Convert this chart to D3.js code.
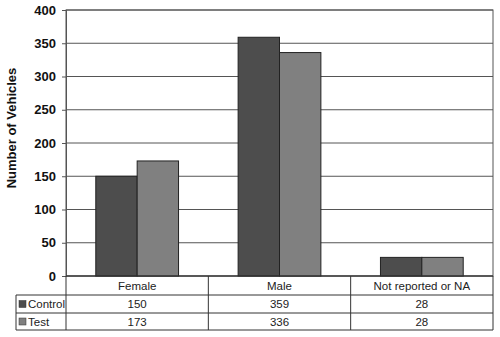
<!DOCTYPE html>
<html>
<head>
<meta charset="utf-8">
<script src="https://cdn.jsdelivr.net/npm/d3@7"></script>
<style>
  body { margin: 0; background: #fff; }
  text { font-family: "Liberation Sans", Arial, sans-serif; }
</style>
</head>
<body>
<svg id="chart" width="500" height="337"></svg>
<script>
// data
const categories = ["Female", "Male", "Not reported or NA"];
const seriesNames = ["Control", "Test"];
const controlValues = [150, 359, 28];
const testValues = [173, 336, 28];
const yTicks = [0, 50, 100, 150, 200, 250, 300, 350, 400];
const colors = ["#4d4d4d", "#808080"];

const margin = {top: 10, right: 7, bottom: 61, left: 66},
    width = 500 - margin.left - margin.right,
    height = 337 - margin.top - margin.bottom;

const svg = d3.select("#chart");
const g = svg.append("g")
    .attr("transform", `translate(${margin.left},${margin.top})`);

const x = d3.scaleBand().domain(categories).range([0, width]);
const xs = d3.scaleBand().domain(seriesNames).range([0, x.bandwidth()]).paddingOuter(0.72);
const y = d3.scaleLinear().domain([0, 400]).range([266, 0]);

// gridlines
g.selectAll(".grid")
  .data(yTicks)
  .enter().append("line")
    .attr("x1", 0).attr("x2", width)
    .attr("y1", d => y(d)).attr("y2", d => y(d))
    .attr("stroke", "#555").attr("stroke-width", 1);

// plot frame
g.append("rect")
    .attr("x", 0).attr("y", 0)
    .attr("width", width).attr("height", y(0))
    .attr("fill", "none").attr("stroke", "#555");

// y axis
const yAxis = g.append("g")
    .call(d3.axisLeft(y).tickValues(yTicks).tickSize(4).tickPadding(6));
yAxis.select(".domain").attr("stroke", "#555");
yAxis.selectAll(".tick line").attr("stroke", "#555");
yAxis.selectAll("text")
    .attr("font-size", 13).attr("font-weight", "bold").attr("fill", "#111")
    .style("font-family", "'Liberation Sans', Arial, sans-serif");

// y label
svg.append("text")
    .attr("transform", "rotate(-90)")
    .attr("x", -128).attr("y", 16)
    .attr("text-anchor", "middle")
    .attr("font-size", 13).attr("font-weight", "bold").attr("fill", "#111")
    .text("Number of Vehicles");

// bars
const series = [controlValues, testValues];
series.forEach((vals, si) => {
  g.selectAll(".bar" + si)
    .data(categories)
    .enter().append("rect")
      .attr("x", c => x(c) + xs(seriesNames[si]))
      .attr("y", (c, i) => y(vals[i]))
      .attr("width", xs.bandwidth())
      .attr("height", (c, i) => y(0) - y(vals[i]))
      .attr("fill", colors[si])
      .attr("stroke", "#222").attr("stroke-width", 1);
});

// data table under the chart
const rowH = [19, 18, 17];
const tableTop = margin.top + y(0);
const tableLeft = 16;
const t = svg.append("g");
const rowY = [tableTop, tableTop + rowH[0], tableTop + rowH[0] + rowH[1], tableTop + rowH[0] + rowH[1] + rowH[2]];

// horizontal rules
t.append("line").attr("x1", margin.left).attr("x2", margin.left + width)
  .attr("y1", rowY[0]).attr("y2", rowY[0]).attr("stroke", "#333");
[1, 2, 3].forEach(r => {
  t.append("line").attr("x1", tableLeft).attr("x2", margin.left + width)
    .attr("y1", rowY[r]).attr("y2", rowY[r]).attr("stroke", "#333");
});
// vertical rules
t.append("line").attr("x1", tableLeft).attr("x2", tableLeft)
  .attr("y1", rowY[1]).attr("y2", rowY[3]).attr("stroke", "#333");
categories.concat(["end"]).forEach((c, i) => {
  const xx = margin.left + (i < categories.length ? x(c) : width);
  t.append("line").attr("x1", xx).attr("x2", xx)
    .attr("y1", rowY[0]).attr("y2", rowY[3]).attr("stroke", "#333");
});

// header labels
t.selectAll(".hdr")
  .data(categories)
  .enter().append("text")
    .attr("x", c => margin.left + x(c) + x.bandwidth() / 2)
    .attr("y", (rowY[0] + rowY[1]) / 2 + 4)
    .attr("text-anchor", "middle").attr("font-size", 11.5).attr("fill", "#222")
    .text(c => c);

// rows with legend keys
series.forEach((vals, si) => {
  const cy = (rowY[si + 1] + rowY[si + 2]) / 2;
  t.append("rect")
    .attr("x", 19).attr("y", cy - 3.5).attr("width", 7).attr("height", 7)
    .attr("fill", colors[si]).attr("stroke", "#333").attr("stroke-width", 0.5);
  t.append("text")
    .attr("x", 28).attr("y", cy + 4)
    .attr("font-size", 11.5).attr("fill", "#222")
    .text(seriesNames[si]);
  t.selectAll(".v" + si)
    .data(categories)
    .enter().append("text")
      .attr("x", c => margin.left + x(c) + x.bandwidth() / 2)
      .attr("y", cy + 4)
      .attr("text-anchor", "middle").attr("font-size", 11.5).attr("fill", "#222")
      .text((c, i) => vals[i]);
});
</script>
</body>
</html>
